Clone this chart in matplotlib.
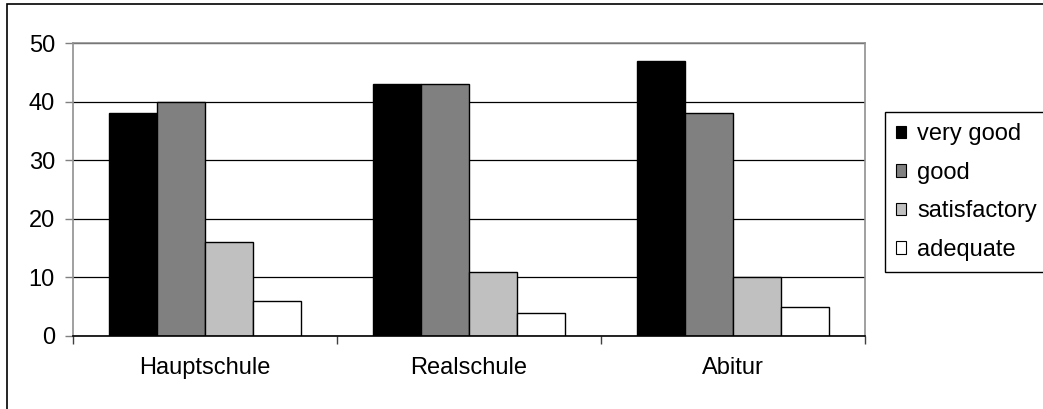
import numpy as np
from matplotlib import pyplot as plt
from matplotlib.patches import Rectangle

plt.rcParams['font.family'] = ['Liberation Sans', 'DejaVu Sans']
plt.rcParams['font.size'] = 17

categories = ['Hauptschule', 'Realschule', 'Abitur']
series_names = ['very good', 'good', 'satisfactory', 'adequate']
very_good = [38, 43, 47]
good = [40, 43, 38]
satisfactory = [16, 11, 10]
adequate = [6, 4, 5]
yticks = [0, 10, 20, 30, 40, 50]

series = [very_good, good, satisfactory, adequate]
colors = ['#000000', '#808080', '#C0C0C0', '#FFFFFF']

W, H = 1043, 409
fig = plt.figure(figsize=(W / 100, H / 100), dpi=100)

# outer chart frame (cropped at right/bottom like the original)
fig.patches.append(Rectangle((7 / W, -0.1), 1.2, 1 - 4 / H + 0.1,
                             transform=fig.transFigure, fill=False,
                             edgecolor='black', linewidth=1.2))

ax = fig.add_axes([73 / W, 1 - 336 / H, (865 - 73) / W, (336 - 43) / H])

x = np.arange(len(categories))
bw = 1 / 5.5
for i, (vals, c, name) in enumerate(zip(series, colors, series_names)):
    ax.bar(x + (i - 1.5) * bw, vals, width=bw, color=c, edgecolor='black',
           linewidth=1.0, label=name, zorder=3)

ax.set_xlim(-0.5, len(categories) - 0.5)
ax.set_ylim(0, 50)
ax.set_yticks(yticks)
ax.yaxis.grid(True, color='black', linewidth=0.9, zorder=0)
ax.set_axisbelow(True)

ax.set_xticks(x)
ax.set_xticklabels(categories)
ax.set_xticks(np.arange(len(categories) + 1) - 0.5, minor=True)
ax.tick_params(axis='x', which='major', length=0, pad=15)
ax.tick_params(axis='x', which='minor', length=6, width=1, color='#404040', direction='out')
ax.tick_params(axis='y', length=5.5, width=1, color='#808080', pad=7.5)

for s in ['top', 'right', 'left']:
    ax.spines[s].set_color('#909090')
    ax.spines[s].set_linewidth(1.2)
ax.spines['bottom'].set_color('black')
ax.spines['bottom'].set_linewidth(1.2)
ax.spines['bottom'].set_zorder(4)

leg = ax.legend(loc='upper left', bbox_to_anchor=(885 / W, 1 - 112 / H),
                bbox_transform=fig.transFigure, frameon=True, fancybox=False,
                edgecolor='black', framealpha=1, borderpad=0.48,
                labelspacing=0.7, handlelength=0.42, handleheight=0.42,
                handletextpad=0.45, borderaxespad=0)
leg.get_frame().set_linewidth(1.0)
for p in leg.get_patches():
    p.set_linewidth(0.8)

fig.savefig('out.png', dpi=100)
